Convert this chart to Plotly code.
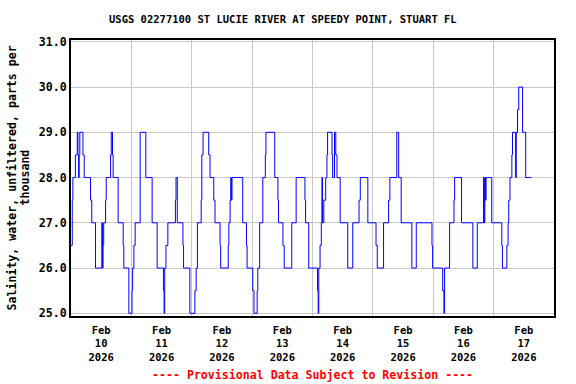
import plotly.graph_objects as go
import pandas as pd

times = [
 "2026-02-10 00:00","2026-02-10 00:30","2026-02-10 00:45","2026-02-10 01:45","2026-02-10 02:30",
 "2026-02-10 02:45","2026-02-10 03:00","2026-02-10 03:15","2026-02-10 03:30","2026-02-10 04:45",
 "2026-02-10 05:15","2026-02-10 07:45","2026-02-10 08:15","2026-02-10 09:45","2026-02-10 12:15",
 "2026-02-10 12:30","2026-02-10 12:45","2026-02-10 13:00","2026-02-10 13:45","2026-02-10 14:00",
 "2026-02-10 15:45","2026-02-10 16:00","2026-02-10 16:30","2026-02-10 16:45","2026-02-10 18:45",
 "2026-02-10 20:45","2026-02-10 21:00","2026-02-10 23:00",
 "2026-02-11 00:15","2026-02-11 00:30","2026-02-11 01:00","2026-02-11 01:30","2026-02-11 03:30",
 "2026-02-11 05:45","2026-02-11 08:15","2026-02-11 10:15","2026-02-11 12:45","2026-02-11 13:00",
 "2026-02-11 13:15","2026-02-11 13:45","2026-02-11 14:30","2026-02-11 17:30","2026-02-11 17:45",
 "2026-02-11 18:15","2026-02-11 20:30","2026-02-11 20:45","2026-02-11 23:15",
 "2026-02-12 01:15","2026-02-12 01:45","2026-02-12 02:15","2026-02-12 03:45","2026-02-12 04:00",
 "2026-02-12 04:30","2026-02-12 06:45","2026-02-12 07:15","2026-02-12 08:45","2026-02-12 09:15",
 "2026-02-12 11:15","2026-02-12 11:30","2026-02-12 14:30","2026-02-12 14:45","2026-02-12 15:15",
 "2026-02-12 15:30","2026-02-12 15:45","2026-02-12 16:00","2026-02-12 20:15","2026-02-12 21:45",
 "2026-02-12 22:00",
 "2026-02-13 00:15","2026-02-13 00:45","2026-02-13 02:00","2026-02-13 02:15","2026-02-13 03:00",
 "2026-02-13 04:15","2026-02-13 05:15","2026-02-13 05:30","2026-02-13 09:00","2026-02-13 10:15",
 "2026-02-13 10:30","2026-02-13 12:15","2026-02-13 12:45","2026-02-13 15:45","2026-02-13 17:30",
 "2026-02-13 21:00","2026-02-13 21:15","2026-02-13 22:30",
 "2026-02-14 02:00","2026-02-14 02:15","2026-02-14 02:30","2026-02-14 03:00","2026-02-14 03:30",
 "2026-02-14 03:45","2026-02-14 04:00","2026-02-14 04:30","2026-02-14 05:15","2026-02-14 05:45",
 "2026-02-14 06:00","2026-02-14 07:45","2026-02-14 08:00","2026-02-14 08:45","2026-02-14 09:15",
 "2026-02-14 09:45","2026-02-14 11:00","2026-02-14 14:00","2026-02-14 16:00","2026-02-14 18:30",
 "2026-02-14 19:00","2026-02-14 22:00",
 "2026-02-15 01:15","2026-02-15 01:45","2026-02-15 04:15","2026-02-15 06:15","2026-02-15 06:45",
 "2026-02-15 09:30","2026-02-15 10:15","2026-02-15 11:15","2026-02-15 15:30","2026-02-15 17:15",
 "2026-02-15 23:30","2026-02-15 23:45",
 "2026-02-16 03:45","2026-02-16 04:15","2026-02-16 04:30","2026-02-16 06:30","2026-02-16 08:15",
 "2026-02-16 08:30","2026-02-16 11:15","2026-02-16 15:45","2026-02-16 17:30","2026-02-16 20:00",
 "2026-02-16 20:15","2026-02-16 20:30","2026-02-16 20:45","2026-02-16 21:00","2026-02-16 23:15",
 "2026-02-17 03:15","2026-02-17 03:30","2026-02-17 05:15","2026-02-17 05:45","2026-02-17 06:00",
 "2026-02-17 06:30","2026-02-17 07:15","2026-02-17 07:30","2026-02-17 08:45","2026-02-17 09:00",
 "2026-02-17 09:30","2026-02-17 10:00","2026-02-17 11:30","2026-02-17 12:45","2026-02-17 15:00",
]
salinity = [
 26.5,27.5,28,28.5,29, 28.5,28,28.5,29,28.5, 28,27.5,27,26,27, 26,26.5,27,27.5,28,
 28.5,29,28.5,28,27, 26.5,26,25,
 25.5,26,26.5,27,29, 28,27,26,25.5,25, 26,26.5,27,27.5,28, 27,26.5,26,25,
 25.5,26,27,27.5,28.5, 29,28.5,28,27.5,27, 26.5,26,26.5,27,27.5, 28,27.5,28,27,26.5, 26,
 25.5,25,25.5,26,27, 28,28.5,29,28,27.5, 27,26.5,26,27,28, 27.5,27,26,
 25.5,25,26,26.5,27, 28,27,27.5,28,28.5, 29,28.5,28,29,28.5, 28,27,26,27,27.5, 28,27,
 26.5,26,27,27.5,28, 29,28,27,26,27, 26.5,26,
 25.5,25,26,27,27.5, 28,27,26,27,28, 27,28,27.5,28,27,
 26.5,26,26.5,27,27.5, 28,28.5,29,28,29, 29.5,30,29,28,28,
]

y_ticks = [25, 26, 27, 28, 29, 30, 31]
title_text = "USGS 02277100 ST LUCIE RIVER AT SPEEDY POINT, STUART FL"
y_title_lines = ["Salinity, water, unfiltered, parts per", "thousand"]
footer = "---- Provisional Data Subject to Revision ----"

df = pd.DataFrame({"t": pd.to_datetime(times), "v": salinity})

FONT = "DejaVu Sans Mono"
W, H = 576, 384
L, T = 71, 40
PR, PB = 554, 316
R, B = W - PR, H - PB
pw = W - L - R
ph = H - T - B

fig = go.Figure()
fig.add_trace(go.Scatter(x=df["t"], y=df["v"], mode="lines", line_shape="hv",
                         line=dict(color="#0000ff", width=1), hoverinfo="skip"))

fig.update_layout(
    width=W, height=H, margin=dict(l=L, r=R, t=T, b=B, autoexpand=False),
    paper_bgcolor="white", plot_bgcolor="white", showlegend=False,
)
fig.update_xaxes(
    type="date", range=["2026-02-10 00:00", "2026-02-18 00:00"], automargin=False,
    dtick=86400000, tick0="2026-02-10", ticklabelmode="period",
    tickformat="%b<br>%d<br>%Y", showgrid=True, gridcolor="#c8c8c8", gridwidth=1,
    showline=True, linecolor="black", linewidth=2, mirror=True,
    ticks="outside", ticklen=3, tickcolor="rgba(0,0,0,0)", zeroline=False,
    tickfont=dict(family=FONT, size=10.5, color="black", weight="bold"),
)
fig.update_yaxes(
    range=[24.94, 31.04], tickvals=y_ticks, ticktext=[f"{v:.1f}" for v in y_ticks],
    automargin=False, showgrid=True, gridcolor="#c8c8c8", gridwidth=1,
    showline=True, linecolor="black", linewidth=2, mirror=True,
    ticks="", zeroline=False,
    tickfont=dict(family=FONT, size=11.6, color="black", weight="bold"),
)
fig.add_annotation(text=title_text, xref="paper", yref="paper",
                   x=(283 - L) / pw, y=1 + (T - 19) / ph,
                   xanchor="center", yanchor="middle", showarrow=False,
                   font=dict(family=FONT, size=10.5, color="black", weight="bold"))
for line_text, px in zip(y_title_lines, [11.5, 24.5]):
    fig.add_annotation(text=line_text, xref="paper", yref="paper",
                       x=(px - L) / pw, y=0.5, xanchor="center", yanchor="middle",
                       textangle=-90, showarrow=False, borderpad=0,
                       font=dict(family=FONT, size=11.6, color="black", weight="bold"))
fig.add_annotation(text=footer, xref="paper", yref="paper",
                   x=0.5, y=-(375 - PB) / ph, xanchor="center", yanchor="middle",
                   showarrow=False,
                   font=dict(family=FONT, size=11.6, color="red", weight="bold"))

fig.write_html("out.html", config={"displayModeBar": False},
               post_script="document.body.style.margin='0';document.body.style.padding='0';")
